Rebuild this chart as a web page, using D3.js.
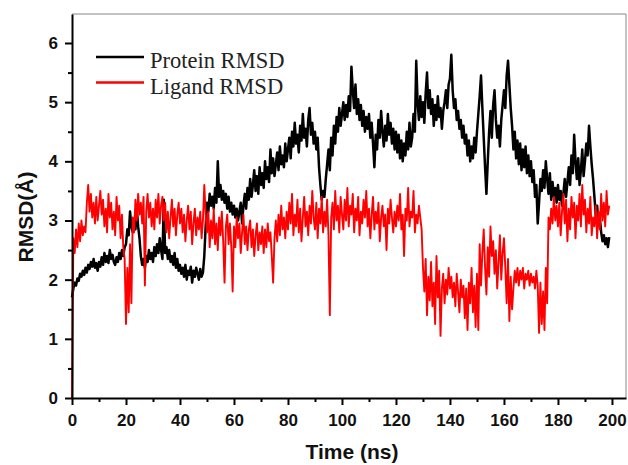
<!DOCTYPE html>
<html>
<head>
<meta charset="utf-8">
<script src="https://cdn.jsdelivr.net/npm/d3@7"></script>
<style>
  html, body { margin: 0; padding: 0; background: #fff; }
  svg { display: block; }
  .tick text { font-family: Arial, "Liberation Sans", sans-serif; font-weight: bold; font-size: 17px; fill: #111; }
</style>
</head>
<body>
<svg id="chart" width="628" height="465"></svg>
<script>
// sampling step of the trajectory (ns)
const TIME_STEP = 0.5;

const seriesNames = ["Protein RMSD", "Ligand RMSD"];
const seriesColors = ["#000000", "#ff0000"];

const xTicks = [0, 20, 40, 60, 80, 100, 120, 140, 160, 180, 200];
const yTicks = [0, 1, 2, 3, 4, 5, 6];

// protein RMSD (Å), one value every 0.5 ns
const proteinRmsd = [
  1.70, 1.85, 1.95, 1.90, 2.02, 1.98, 2.10, 2.05, 2.15, 2.08, 2.20, 2.12, 2.25, 2.18, 2.30, 2.22, 2.35, 2.20, 2.28, 2.15,
  2.30, 2.22, 2.38, 2.25, 2.45, 2.30, 2.40, 2.28, 2.50, 2.35, 2.42, 2.30, 2.25, 2.38, 2.30, 2.45, 2.35, 2.50, 2.40, 2.55,
  2.60, 2.85, 2.75, 3.15, 2.90, 2.80, 3.00, 2.85, 3.20, 2.90, 2.70, 2.40, 2.25, 2.35, 2.20, 2.40, 2.30, 2.50, 2.35, 2.45,
  2.30, 2.55, 2.40, 2.60, 2.45, 2.70, 2.50, 2.35, 3.35, 2.45, 2.55, 2.35, 2.50, 2.30, 2.40, 2.25, 2.45, 2.20, 2.35, 2.15,
  2.25, 2.10, 2.20, 2.05, 2.25, 2.00, 2.15, 2.08, 2.22, 1.95, 2.15, 2.05, 2.20, 2.10, 2.00, 2.18, 2.05, 2.12, 2.40, 2.90,
  3.30, 3.15, 3.45, 3.25, 3.40, 3.20, 3.55, 3.30, 4.00, 3.40, 3.60, 3.35, 3.50, 3.30, 3.45, 3.20, 3.40, 3.15, 3.30, 3.10,
  3.25, 3.05, 3.20, 3.00, 3.15, 3.30, 2.95, 3.25, 3.45, 3.20, 3.55, 3.35, 3.70, 3.40, 3.60, 3.85, 3.50, 3.75, 3.45, 3.90,
  3.60, 3.80, 3.55, 4.00, 3.70, 3.90, 3.65, 4.20, 3.80, 4.05, 3.75, 3.95, 4.15, 3.85, 4.25, 3.95, 4.10, 3.90, 4.30, 4.00,
  4.20, 4.40, 4.05, 4.50, 4.25, 4.65, 4.30, 4.45, 4.15, 4.60, 4.35, 4.80, 4.40, 4.55, 4.25, 4.70, 4.90, 4.45, 4.65, 4.30,
  4.50, 4.20, 4.40, 3.90, 3.60, 3.35, 3.50, 3.40, 3.70, 3.95, 4.20, 3.85, 4.40, 4.10, 4.60, 4.30, 4.75, 4.50, 4.90, 4.60,
  4.80, 5.00, 4.70, 4.95, 4.75, 5.10, 4.85, 5.60, 5.20, 4.90, 5.30, 4.80, 5.05, 4.70, 4.95, 4.60, 4.85, 4.50, 4.75, 4.55,
  4.80, 4.40, 4.65, 4.30, 3.90, 4.45, 4.20, 4.70, 4.40, 4.85, 4.50, 4.25, 4.60, 4.35, 4.80, 4.45, 4.65, 4.30, 4.55, 4.20,
  4.50, 4.15, 4.45, 4.05, 4.35, 4.00, 4.30, 4.10, 4.50, 4.20, 4.65, 4.25, 4.40, 4.80, 4.50, 5.70, 5.00, 4.70, 5.10, 4.75,
  5.00, 4.65, 5.15, 5.50, 4.90, 5.20, 4.80, 5.05, 4.60, 4.95, 4.70, 5.10, 4.75, 4.90, 4.55, 4.85, 5.00, 5.20, 4.90, 5.30,
  5.40, 5.80, 5.20, 4.90, 5.05, 4.70, 4.85, 4.55, 4.70, 4.40, 4.60, 4.30, 4.45, 4.10, 4.35, 4.00, 4.25, 4.05, 4.40, 4.15,
  4.50, 4.80, 5.10, 5.45, 4.90, 4.40, 3.90, 3.45, 4.00, 4.50, 4.85, 4.40, 4.95, 5.20, 4.70, 4.40, 4.60, 4.25, 4.70, 4.95,
  5.20, 4.90, 5.45, 5.70, 5.30, 4.90, 4.60, 4.20, 4.50, 4.05, 4.35, 3.95, 4.30, 3.85, 4.20, 3.90, 4.25, 3.80, 4.10, 3.75,
  4.00, 3.65, 3.85, 3.40, 3.60, 2.95, 3.30, 3.70, 3.50, 3.85, 3.55, 4.00, 3.70, 3.45, 3.80, 3.35, 3.65, 3.40, 3.55, 3.30,
  3.60, 3.35, 3.50, 3.25, 3.45, 3.70, 3.40, 3.65, 3.90, 3.60, 4.10, 3.80, 4.45, 4.00, 3.70, 4.05, 3.60, 3.85, 4.20, 3.75,
  4.00, 4.30, 4.10, 4.60, 4.25, 3.95, 3.70, 3.40, 3.10, 3.25, 2.95, 3.05, 2.80, 2.65, 2.75, 2.60, 2.70, 2.55, 2.72
];

// ligand RMSD (Å), one value every 0.5 ns
const ligandRmsd = [
  0.00, 2.70, 2.45, 2.85, 2.55, 2.95, 2.65, 3.00, 2.75, 2.90, 2.80, 3.30, 3.60, 3.15, 3.45, 3.05, 3.30, 2.95, 3.40, 3.00,
  3.25, 3.50, 3.10, 3.35, 2.90, 3.20, 2.80, 3.45, 3.05, 3.30, 2.85, 3.15, 2.75, 3.40, 3.00, 3.25, 2.70, 3.10, 2.55, 2.35,
  1.25, 2.20, 1.45, 2.60, 1.60, 3.05, 2.80, 3.35, 3.00, 3.45, 3.10, 3.30, 2.95, 3.40, 1.90, 3.15, 3.45, 3.05, 3.30, 2.90,
  3.20, 2.85, 3.35, 3.05, 3.45, 2.95, 3.25, 3.40, 3.00, 3.30, 2.80, 3.15, 2.70, 3.05, 3.35, 2.90, 3.20, 2.75, 3.10, 3.30,
  2.95, 3.20, 2.80, 3.10, 2.65, 3.00, 3.25, 2.85, 3.15, 2.60, 2.95, 3.20, 2.75, 3.05, 2.85, 3.15, 2.70, 3.00, 3.60, 3.10,
  2.80, 3.15, 2.55, 3.00, 2.70, 3.20, 2.60, 2.95, 2.50, 3.05, 2.75, 3.15, 2.65, 1.95, 2.90, 3.10, 2.60, 2.95, 2.55, 1.80,
  2.90, 2.55, 3.05, 2.70, 2.95, 2.45, 2.80, 3.10, 2.60, 2.90, 2.50, 2.85, 3.00, 2.55, 2.85, 2.40, 2.75, 2.95, 2.50, 2.80,
  2.60, 2.90, 2.45, 2.85, 2.55, 2.95, 2.65, 2.80, 2.40, 1.95, 2.70, 3.00, 2.65, 3.10, 2.75, 3.25, 2.85, 3.05, 2.70, 3.15,
  2.85, 3.30, 2.95, 3.45, 2.75, 3.10, 2.90, 3.35, 2.80, 3.20, 2.65, 3.05, 3.40, 2.90, 3.15, 2.75, 3.25, 2.95, 3.50, 3.05,
  2.85, 3.30, 2.70, 3.20, 2.95, 3.40, 2.80, 3.15, 2.90, 3.35, 2.75, 1.40, 3.05, 3.30, 2.85, 3.50, 3.00, 3.25, 2.80, 3.40,
  3.10, 2.85, 3.35, 3.00, 3.55, 2.90, 3.25, 3.10, 3.45, 2.80, 3.20, 3.00, 3.40, 2.75, 3.15, 2.95, 3.35, 3.05, 3.50, 2.90,
  3.20, 2.70, 3.10, 3.40, 2.85, 3.15, 2.95, 3.30, 2.65, 3.05, 3.25, 2.90, 3.10, 2.50, 3.20, 2.95, 3.35, 3.05, 2.80, 3.15,
  2.90, 3.25, 3.00, 3.45, 2.85, 3.10, 2.40, 3.20, 3.00, 3.55, 2.90, 3.15, 3.05, 3.50, 2.80, 3.10, 2.95, 3.25, 3.05, 2.85,
  2.20, 1.80, 2.35, 1.40, 2.05, 1.65, 2.30, 1.55, 1.95, 1.25, 2.40, 1.70, 2.15, 1.05, 1.85, 2.10, 1.60, 2.00, 1.75, 2.20,
  1.85, 2.05, 1.70, 1.95, 1.55, 2.10, 1.80, 1.45, 2.00, 1.70, 1.90, 1.35, 1.85, 1.15, 1.95, 1.60, 2.20, 1.45, 1.90, 1.20,
  2.10, 1.15, 2.60, 1.90, 2.45, 2.85, 2.20, 1.75, 2.55, 2.05, 2.90, 2.40, 2.65, 2.10, 2.50, 1.85, 2.30, 2.75, 2.00, 2.45,
  2.70, 2.20, 1.60, 2.35, 1.30, 2.05, 1.50, 1.85, 2.15, 1.95, 2.20, 1.90, 2.15, 2.00, 2.20, 1.85, 2.10, 2.00, 2.15, 1.90,
  2.10, 1.95, 2.05, 1.85, 2.15, 1.90, 1.10, 1.95, 1.25, 1.80, 1.15, 2.20, 1.60, 3.05, 2.85, 3.20, 2.95, 3.40, 3.00, 3.25,
  2.90, 3.30, 2.75, 3.15, 3.45, 2.95, 3.35, 2.65, 3.20, 2.85, 3.40, 3.05, 3.30, 2.70, 3.25, 3.00, 3.45, 2.90, 3.60, 3.10,
  3.35, 2.80, 3.20, 2.95, 3.40, 2.75, 3.05, 2.90, 3.25, 2.70, 3.15, 2.85, 3.45, 3.00, 3.30, 2.90, 3.50, 3.10, 3.25
];

const margin = { top: 14, right: 2, bottom: 67, left: 72 };
const width = 628;
const height = 465;

const svg = d3.select("#chart");

const x = d3.scaleLinear()
  .domain([0, 205.2])
  .range([margin.left, width - margin.right]);

const y = d3.scaleLinear()
  .domain([0, 6.49])
  .range([height - margin.bottom, margin.top]);

// top and right frame
svg.append("path")
  .attr("d", `M${x(0)},${y(6.49)}H${x(205.2)}V${y(0)}`)
  .attr("fill", "none")
  .attr("stroke", "#888")
  .attr("stroke-width", 1);

const toPoints = (values) => values.map((v, i) => [i * TIME_STEP, v]);

const line = d3.line()
  .x((d) => x(d[0]))
  .y((d) => y(d[1]));

const series = [proteinRmsd, ligandRmsd];
series.forEach((values, i) => {
  svg.append("path")
    .datum(toPoints(values))
    .attr("fill", "none")
    .attr("stroke", seriesColors[i])
    .attr("stroke-width", i === 0 ? 2.5 : 1.9)
    .attr("stroke-linejoin", "round")
    .attr("d", line);
});

// minor ticks
const xMinor = d3.range(10, 205, 20);
const yMinor = d3.range(0.5, 6.5, 1);

const xAxis = svg.append("g")
  .attr("transform", `translate(0,${y(0)})`)
  .call(d3.axisBottom(x).tickValues(xTicks).tickFormat(d3.format("d")).tickSize(7).tickPadding(6).tickSizeOuter(0));
xAxis.selectAll(".tick text").attr("dy", "0.9em");

svg.append("g")
  .attr("transform", `translate(0,${y(0)})`)
  .call(d3.axisBottom(x).tickValues(xMinor).tickSize(4).tickFormat("").tickSizeOuter(0))
  .select(".domain").remove();

svg.append("g")
  .attr("transform", `translate(${x(0)},0)`)
  .call(d3.axisLeft(y).tickValues(yTicks).tickFormat(d3.format("d")).tickSize(7).tickPadding(7).tickSizeOuter(0));

svg.append("g")
  .attr("transform", `translate(${x(0)},0)`)
  .call(d3.axisLeft(y).tickValues(yMinor).tickSize(4).tickFormat("").tickSizeOuter(0))
  .select(".domain").remove();

svg.selectAll(".domain").attr("stroke", "#000").attr("stroke-width", 2);
svg.selectAll(".tick line").attr("stroke", "#000").attr("stroke-width", 2);

// axis titles
svg.append("text")
  .attr("x", 352)
  .attr("y", 459)
  .attr("text-anchor", "middle")
  .style("font-family", "Arial, 'Liberation Sans', sans-serif")
  .style("font-weight", "bold")
  .style("font-size", "21px")
  .attr("fill", "#111")
  .text("Time (ns)");

svg.append("text")
  .attr("transform", "translate(33,217) rotate(-90)")
  .attr("text-anchor", "middle")
  .style("font-family", "Arial, 'Liberation Sans', sans-serif")
  .style("font-weight", "bold")
  .style("font-size", "21px")
  .attr("fill", "#111")
  .text("RMSD(Å)");

// legend
const legend = svg.append("g");
seriesNames.forEach((name, i) => {
  const ly = 57 + i * 25.5;
  legend.append("line")
    .attr("x1", 96).attr("x2", 144)
    .attr("y1", ly).attr("y2", ly)
    .attr("stroke", seriesColors[i])
    .attr("stroke-width", 2.4);
  legend.append("text")
    .attr("x", 150)
    .attr("y", ly + 11)
    .style("font-family", "'Liberation Serif', 'Times New Roman', serif")
    .style("font-size", "22.5px")
    .attr("fill", "#222")
    .text(name);
});
</script>
</body>
</html>
